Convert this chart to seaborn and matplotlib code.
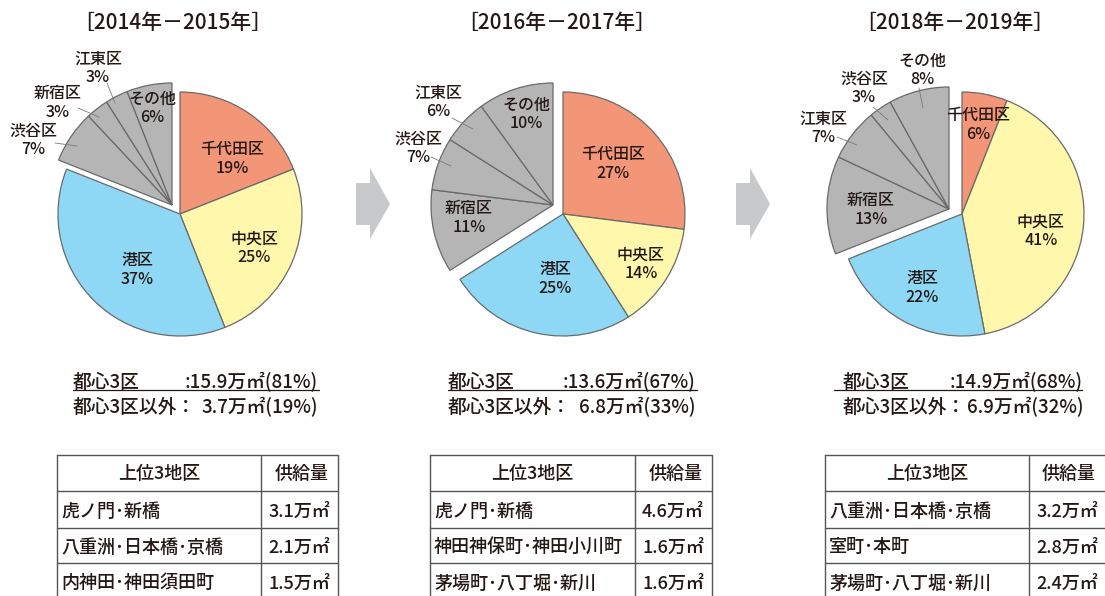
import matplotlib
matplotlib.use("Agg")
import matplotlib.pyplot as plt
from matplotlib.patches import Polygon
import seaborn as sns

# periods shown above each pie
periods = ["［2014年－2015年］", "［2016年－2017年］", "［2018年－2019年］"]

# ward shares (%), clockwise from 12 o'clock
wards_1 = ["千代田区", "中央区", "港区", "渋谷区", "新宿区", "江東区", "その他"]
shares_1 = [19, 25, 37, 7, 3, 3, 6]
wards_2 = ["千代田区", "中央区", "港区", "新宿区", "渋谷区", "江東区", "その他"]
shares_2 = [27, 14, 25, 11, 7, 6, 10]
wards_3 = ["千代田区", "中央区", "港区", "新宿区", "江東区", "渋谷区", "その他"]
shares_3 = [6, 41, 22, 13, 7, 3, 8]

# supply summary (万㎡ and %)
core_area = [15.9, 13.6, 14.9]
core_pct = [81, 67, 68]
other_area = [3.7, 6.8, 6.9]
other_pct = [19, 33, 32]

# top 3 districts per period
top_areas_1 = ["虎ノ門･新橋", "八重洲･日本橋･京橋", "内神田･神田須田町"]
top_supply_1 = [3.1, 2.1, 1.5]
top_areas_2 = ["虎ノ門･新橋", "神田神保町･神田小川町", "茅場町･八丁堀･新川"]
top_supply_2 = [4.6, 1.6, 1.6]
top_areas_3 = ["八重洲･日本橋･京橋", "室町･本町", "茅場町･八丁堀･新川"]
top_supply_3 = [3.2, 2.8, 2.4]

W, H = 1105, 596
R = 122
TXT = "#231815"
EDGE = "#6a6a6a"
ward_colors = {"千代田区": "#F39678", "中央区": "#FFF8AC", "港区": "#8ED8F6"}
GRAY = "#B5B5B6"
core_wards = list(ward_colors)

sns.set_theme(style="white")
plt.rcParams["font.family"] = ["Noto Sans CJK JP", "DejaVu Sans"]
plt.rcParams["font.weight"] = "medium"


def Y(y):
    return H - y


# layout: pie centre, offset of the grey block, label centres, leader lines
panels = [
    dict(wards=wards_1, shares=shares_1, areas=top_areas_1, supply=top_supply_1,
         cx=180, cy=214, gdx=-8, gdy=9, title_x=173,
         labels={"千代田区": (232, 159), "中央区": (254, 248), "港区": (137, 270),
                 "渋谷区": (33, 140), "新宿区": (58, 103), "江東区": (98, 68),
                 "その他": (152, 108)},
         leaders={"渋谷区": (55, 143, 77, 146), "新宿区": (78, 108, 99, 117),
                  "江東区": (107, 83, 115, 103)},
         sum_x0=73, sum_x1=318, ul=(73, 319),
         tab=(57, 261, 338)),
    dict(wards=wards_2, shares=shares_2, areas=top_areas_2, supply=top_supply_2,
         cx=563, cy=214, gdx=-10, gdy=9, title_x=557,
         labels={"千代田区": (613, 164), "中央区": (641, 264), "港区": (555, 279),
                 "新宿区": (469, 218), "渋谷区": (418, 148), "江東区": (438, 102),
                 "その他": (526, 114)},
         leaders={"渋谷区": (431, 157, 451, 166), "江東区": (452, 118, 473, 129)},
         sum_x0=448, sum_x1=695, ul=(448, 697),
         tab=(430, 635, 712)),
    dict(wards=wards_3, shares=shares_3, areas=top_areas_3, supply=top_supply_3,
         cx=962, cy=214, gdx=-13, gdy=5, title_x=955,
         labels={"千代田区": (978, 125), "中央区": (1041, 231), "港区": (922, 288),
                 "新宿区": (871, 210), "江東区": (823, 128), "渋谷区": (864, 88),
                 "その他": (922, 70)},
         leaders={"江東区": (837, 137, 857, 145), "渋谷区": (873, 107, 888, 120),
                  "その他": (919, 88, 923, 108)},
         sum_x0=843, sum_x1=1083, ul=(834, 1082),
         tab=(825, 1029, 1112)),
]

fig = plt.figure(figsize=(W / 100, H / 100), dpi=100)
ax = fig.add_axes([0, 0, 1, 1])

for i, p in enumerate(panels):
    cols = [ward_colors.get(w, GRAY) for w in p["wards"]]
    wedges, _ = ax.pie(p["shares"], colors=cols, startangle=90, counterclock=False,
                       center=(p["cx"], Y(p["cy"])), radius=R,
                       wedgeprops=dict(edgecolor=EDGE, linewidth=0.9))
    for w, name in zip(wedges, p["wards"]):
        if name not in core_wards:
            w.set_center((p["cx"] + p["gdx"], Y(p["cy"]) + p["gdy"]))

    # wedge labels
    for name, share in zip(p["wards"], p["shares"]):
        lx, ly = p["labels"][name]
        ax.text(lx, Y(ly), f"{name}\n{share}%", ha="center", va="center",
                fontsize=11.5, color=TXT, linespacing=1.1)
        if name in p["leaders"]:
            x0, y0, x1, y1 = p["leaders"][name]
            ax.plot([x0, x1], [Y(y0), Y(y1)], color="#7a7a7a", lw=0.6)

    # title
    ax.text(p["title_x"], Y(23), periods[i], ha="center", va="center",
            fontsize=15, color=TXT)

    # summary lines
    ax.text(p["sum_x0"], Y(382), "都心3区", ha="left", va="center",
            fontsize=13.5, color=TXT)
    ax.text(p["sum_x1"], Y(382), f":{core_area[i]}万㎡({core_pct[i]}%)",
            ha="right", va="center", fontsize=13.5, color=TXT)
    ax.plot(p["ul"], [Y(390), Y(390)], color=TXT, lw=0.9)
    ax.text(p["sum_x0"], Y(407), "都心3区以外：", ha="left", va="center",
            fontsize=13.5, color=TXT)
    ax.text(p["sum_x1"], Y(407), f"{other_area[i]}万㎡({other_pct[i]}%)",
            ha="right", va="center", fontsize=13.5, color=TXT)

    # table
    x0, xm, x1 = p["tab"]
    rows = [455, 491, 528, 563, 600]
    for r in rows:
        ax.plot([x0, x1], [Y(r), Y(r)], color="#555555", lw=1.0)
    for x in (x0, xm, x1):
        ax.plot([x, x], [Y(rows[0]), Y(rows[-1])], color="#555555", lw=1.0)
    ax.text((x0 + xm) / 2, Y(474), "上位3地区", ha="center", va="center",
            fontsize=13, color=TXT)
    ax.text((xm + min(x1, 1105)) / 2 + 2, Y(474), "供給量", ha="center", va="center",
            fontsize=13, color=TXT)
    for j, (a, s) in enumerate(zip(p["areas"], p["supply"])):
        yc = (rows[j + 1] + rows[j + 2]) / 2 + 2
        ax.text(x0 + 4, Y(yc), a, ha="left", va="center", fontsize=13, color=TXT)
        ax.text(xm + 38, Y(yc), f"{s}万㎡", ha="center", va="center",
                fontsize=13, color=TXT)

# arrows between pies
for ax0 in (356, 736):
    pts = [(ax0, 183), (ax0 + 14, 183), (ax0 + 14, 168), (ax0 + 34, 204),
           (ax0 + 14, 239), (ax0 + 14, 225), (ax0, 225)]
    ax.add_patch(Polygon([(x, Y(y)) for x, y in pts], closed=True,
                         facecolor="#C8C9CA", edgecolor="none"))

ax.set_xlim(0, W)
ax.set_ylim(0, H)
ax.set_aspect("equal")
ax.axis("off")
fig.savefig("out.png", dpi=100, facecolor="white")
